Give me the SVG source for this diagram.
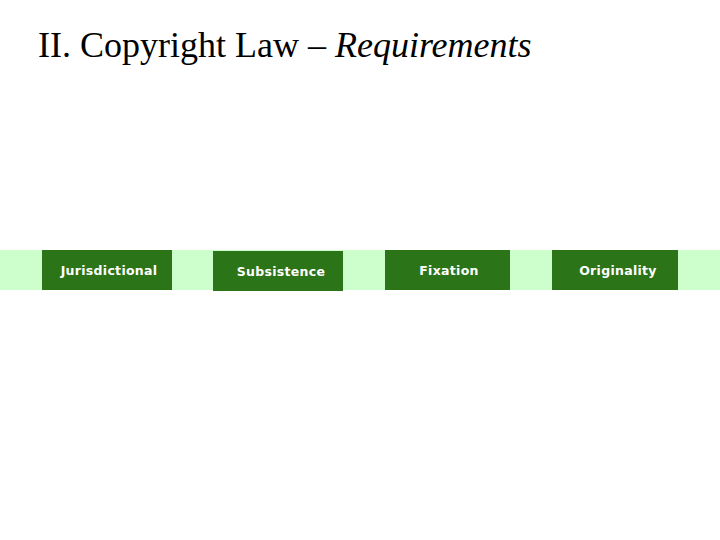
<svg xmlns="http://www.w3.org/2000/svg" width="720" height="540" viewBox="0 0 720 540">
<style>
.box{fill:#2B7418}
.lbl{fill:#fff;font-family:"DejaVu Sans","Liberation Sans",sans-serif;font-size:12.5px;font-weight:bold;text-anchor:middle;letter-spacing:0.3px}
</style>
<rect width="720" height="540" fill="#fff"/>
<text x="38" y="57" font-family="'Liberation Serif',serif" font-size="36" fill="#000">II. Copyright Law – <tspan font-style="italic">Requirements</tspan></text>
<rect x="0" y="250" width="720" height="40" fill="#CCFFCC"/>
<g id="connectors"></g>
<g id="jurisdictional"><rect class="box" x="42" y="250" width="130" height="40"/><text class="lbl" x="109" y="275">Jurisdictional</text></g>
<g id="subsistence"><rect class="box" x="213" y="251" width="130" height="40"/><text class="lbl" x="281" y="276">Subsistence</text></g>
<g id="fixation"><rect class="box" x="385" y="250" width="125" height="40"/><text class="lbl" x="449" y="275">Fixation</text></g>
<g id="originality"><rect class="box" x="552" y="250" width="126" height="40"/><text class="lbl" x="618" y="275">Originality</text></g>
</svg>
